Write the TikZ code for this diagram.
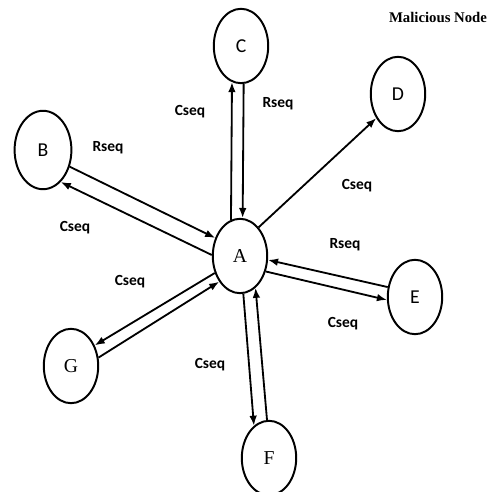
\documentclass[tikz,border=0pt]{standalone}
\usepackage{fontspec}
\setmainfont{Liberation Serif}
\setsansfont{Carlito}
\usetikzlibrary{arrows.meta,shapes.geometric}

\begin{document}
\begin{tikzpicture}[
  >={Latex[length=2.5mm,width=1.9mm]},
  peer/.style={draw, line width=1.4pt, ellipse, minimum width=13.6mm, minimum height=18.6mm, inner sep=0pt, font=\fontsize{14}{16}\selectfont},
  sfpeer/.style={peer, font=\sffamily\fontsize{14}{16}\selectfont},
  msg/.style={font=\sffamily\bfseries\fontsize{11}{13}\selectfont},
  link/.style={->, line width=1.3pt},
]
\useasboundingbox (0,0) rectangle (12.525,12.3);

% malicious node in the middle, its neighbours around it
\node[peer] (A) at (6.0,5.9) {A};
\node[sfpeer, minimum width=14.2mm, minimum height=19.6mm] (B) at (1.075,8.55) {B};
\node[sfpeer] (C) at (6.025,11.15) {C};
\node[sfpeer] (D) at (9.95,9.95) {D};
\node[sfpeer] (E) at (10.375,4.875) {E};
\node[peer] (F) at (6.725,0.85) {F};
\node[peer] (G) at (1.775,3.15) {G};

\node[font=\bfseries\fontsize{10.5}{12}\selectfont] (title) at (10.95,11.875) {Malicious Node};

% request / reply pairs
\draw[link] (A.104) -- (C.256);
\draw[link] (C.274) -- (A.86);
\draw[link] (B.328) -- (A.144);
\draw[link] (A.178) -- (B.299);
\draw[link] (A.57) -- (D.228);
\draw[link] (E.160) -- (A.352);
\draw[link] (A.329) -- (E.186);
\draw[link] (A.214) -- (G.41);
\draw[link] (G.17) -- (A.231);
\draw[link] (A.275) -- (F.115);
\draw[link] (F.93) -- (A.296);

% sequence labels
\node[msg] (cC) at (4.75,9.5) {Cseq};
\node[msg] (rC) at (6.95,9.7) {Rseq};
\node[msg] (rB) at (2.7,8.6) {Rseq};
\node[msg] (cB) at (1.875,6.6) {Cseq};
\node[msg] (cD) at (8.925,7.65) {Cseq};
\node[msg] (rE) at (8.625,6.175) {Rseq};
\node[msg] (cE) at (8.575,4.2) {Cseq};
\node[msg] (cG) at (3.25,5.25) {Cseq};
\node[msg] (cF) at (5.25,3.175) {Cseq};
\end{tikzpicture}
\end{document}
